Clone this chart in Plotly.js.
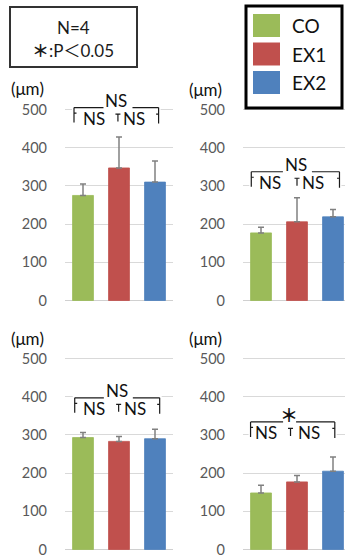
<!DOCTYPE html>
<html><head><meta charset="utf-8">
<script src="https://cdn.plot.ly/plotly-3.0.1.min.js"></script>
<style>body{margin:0;background:#fff}#chart{width:345px;height:557px}</style>
</head><body><div id="chart"></div>
<script>
// ---- data ----
const groups = ['CO', 'EX1', 'EX2'];
const groupColors = ['#9bbb59', '#c0504d', '#4f81bd'];
const yTicks = [0, 100, 200, 300, 400, 500];
const unitLabel = '(μm)';
const noteLines = ['N=4', '＊:P＜0.05'];

const meanTopLeft = [275, 347, 310];
const sdTopLeft = [30, 81, 55];
const meanTopRight = [177, 206, 219];
const sdTopRight = [15, 63, 19];
const meanBottomLeft = [293, 283, 290];
const sdBottomLeft = [13, 13, 25];
const meanBottomRight = [148, 177, 205];
const sdBottomRight = [20, 17, 37];

const sigTopLeft = ['NS', 'NS', 'NS'];      // overall, CO-EX1, EX1-EX2
const sigTopRight = ['NS', 'NS', 'NS'];
const sigBottomLeft = ['NS', 'NS', 'NS'];
const sigBottomRight = ['＊', 'NS', 'NS'];

// ---- layout helpers ----
const W = 345, H = 557;
const px = v => v / W;
const py = v => 1 - v / H;
const FONT = 'Lato, "Noto Sans", "Noto Sans CJK JP", sans-serif';
const UNITS_PER_PX = 100 / 38.2;
const Y0 = -4; // small pad below zero so the "0" label is kept
const boldStar = t => t.replace('＊', '<b>＊</b>');

const panels = [
  {mean: meanTopLeft, sd: sdTopLeft, sig: sigTopLeft, n: '',
   xd: [65 / W, 173 / W], zero: 300.5, xr: [-0.5, 2.5],
   br: {L1: 505, xL: -0.25, xR: 2.10, T: 0.97, up: 0.93, a: 0.30, b: 1.42, gl: -13, gr: 16},
   unit: [27, 89]},
  {mean: meanTopRight, sd: sdTopRight, sig: sigTopRight, n: '2',
   xd: [243 / W, 1], zero: 300.5, xr: [-0.5, -0.5 + 102 / 36],
   br: {L1: 337, xL: -0.27, xR: 2.18, T: 1.0, up: 0.97, a: 0.26, b: 1.45, gl: -13, gr: 16},
   unit: [205, 90]},
  {mean: meanBottomLeft, sd: sdBottomLeft, sig: sigBottomLeft, n: '3',
   xd: [65 / W, 173 / W], zero: 549.5, xr: [-0.5, 2.5],
   br: {L1: 397, xL: -0.23, xR: 2.13, T: 0.99, up: 0.94, a: 0.31, b: 1.44, gl: -13, gr: 16},
   unit: [27, 339]},
  {mean: meanBottomRight, sd: sdBottomRight, sig: sigBottomRight, n: '4',
   xd: [243 / W, 1], zero: 549.5, xr: [-0.5, -0.5 + 102 / 36],
   br: {L1: 334, xL: -0.29, xR: 2.05, T: 0.82, up: 0.78, a: 0.14, b: 1.32, gl: -6, gr: 7},
   unit: [205, 339]}
];

const traces = [];
const layout = {
  width: W, height: H, margin: {l: 0, r: 0, t: 0, b: 0},
  paper_bgcolor: '#fff', plot_bgcolor: 'rgba(0,0,0,0)',
  showlegend: false, font: {family: FONT}, shapes: [], annotations: []
};

panels.forEach((p, i) => {
  const xa = 'x' + p.n, ya = 'y' + p.n;
  const pxPerUnit = 0.382;
  const yd = [1 - (p.zero - Y0 * pxPerUnit) / H, 1 - (p.zero - 540 * pxPerUnit) / H];
  traces.push({
    type: 'bar', x: [0, 1, 2], y: p.mean, xaxis: xa, yaxis: ya, width: 0.58,
    marker: {color: groupColors, line: {color: groupColors, width: 0.8}},
    error_y: {type: 'data', symmetric: false, array: p.sd, arrayminus: [0, 0, 0],
              color: '#808080', thickness: 1.5, width: 3},
    hoverinfo: 'skip'
  });
  layout['xaxis' + p.n] = {domain: p.xd, range: p.xr, anchor: ya, showticklabels: false,
    showgrid: false, zeroline: false, showline: false, ticks: '', fixedrange: true};
  layout['yaxis' + p.n] = {domain: yd, range: [Y0, 540], anchor: xa, tickvals: yTicks,
    ticktext: yTicks.map(String), tickfont: {size: 14.5, color: '#595959', family: FONT},
    showgrid: true, gridcolor: '#d9d9d9', gridwidth: 1, zeroline: true,
    zerolinecolor: '#d0d0d0', zerolinewidth: 1, showline: false, ticks: '',
    ticklabelstandoff: 17, ticklabeloverflow: 'allow', fixedrange: true};

  // unit label
  layout.annotations.push({xref: 'paper', yref: 'paper', x: px(p.unit[0]), y: py(p.unit[1]),
    text: unitLabel, showarrow: false, xanchor: 'center', yanchor: 'middle',
    font: {size: 17, color: '#111', family: FONT}});

  // significance bracket
  const b = p.br, u = UNITS_PER_PX, dx = 1 / 36;
  const xr = 'x' + p.n, yr = 'y' + p.n;
  const line = {color: '#1a1a1a', width: 1.2};
  const seg = (x0, y0, x1, y1) => layout.shapes.push({type: 'line', xref: xr, yref: yr,
    x0, y0, x1, y1, line, layer: 'above'});
  layout.shapes.push({type: 'rect', xref: xr, yref: yr, x0: b.xL - 2 * dx, x1: b.xR + 2 * dx,
    y0: b.L1 - 18 * u, y1: b.L1 + 3 * u, fillcolor: '#fff', line: {width: 0}, layer: 'above'});
  seg(b.xL, b.L1, b.up + b.gl * dx, b.L1);
  seg(b.up + b.gr * dx, b.L1, b.xR, b.L1);
  seg(b.xL, b.L1, b.xL, b.L1 - 15 * u);
  seg(b.xR, b.L1, b.xR, b.L1 - 16 * u);
  seg(b.xL, b.L1 - 5.5 * u, b.xL + 2.5 * dx, b.L1 - 5.5 * u);
  seg(b.xR, b.L1 - 6.5 * u, b.xR - 2.5 * dx, b.L1 - 6.5 * u);
  seg(b.T - 2.5 * dx, b.L1 - 6.5 * u, b.T + 2.5 * dx, b.L1 - 6.5 * u);
  seg(b.T, b.L1 - 6.5 * u, b.T, b.L1 - 14 * u);
  const txt = (x, y, t, s) => layout.annotations.push({xref: xr, yref: yr, x, y, text: t,
    showarrow: false, xanchor: 'center', yanchor: 'middle',
    font: {size: s, color: '#111', family: FONT}});
  txt(b.up, b.L1 + 7 * u, boldStar(p.sig[0]), p.sig[0] === 'NS' ? 17 : 18);
  txt(b.a, b.L1 - 11 * u, p.sig[1], 17);
  txt(b.b, b.L1 - 11 * u, p.sig[2], 17);
});

// N / P note box
layout.shapes.push({type: 'rect', xref: 'paper', yref: 'paper', x0: px(10), x1: px(137),
  y0: py(67), y1: py(7), line: {color: '#333', width: 2}, fillcolor: 'rgba(0,0,0,0)'});
noteLines.forEach((t, i) => layout.annotations.push({xref: 'paper', yref: 'paper',
  x: px(73), y: py(27 + i * 23), text: boldStar(t), showarrow: false, xanchor: 'center',
  yanchor: 'middle', font: {size: 17, color: '#1a1a1a', family: FONT}}));

// legend box
layout.shapes.push({type: 'rect', xref: 'paper', yref: 'paper', x0: px(246), x1: px(342),
  y0: py(108), y1: py(6), line: {color: '#000', width: 3}, fillcolor: '#fff'});
groups.forEach((g, i) => {
  const top = 14 + i * 28.5;
  layout.shapes.push({type: 'rect', xref: 'paper', yref: 'paper', x0: px(253), x1: px(280),
    y0: py(top + 23), y1: py(top), fillcolor: groupColors[i], line: {width: 0}});
  layout.annotations.push({xref: 'paper', yref: 'paper', x: px(290), y: py(top + 11.5),
    text: g, showarrow: false, xanchor: 'left', yanchor: 'middle',
    font: {size: 19, color: '#111', family: FONT}});
});

Plotly.newPlot('chart', traces, layout, {staticPlot: true, displayModeBar: false});
</script>
</body></html>
